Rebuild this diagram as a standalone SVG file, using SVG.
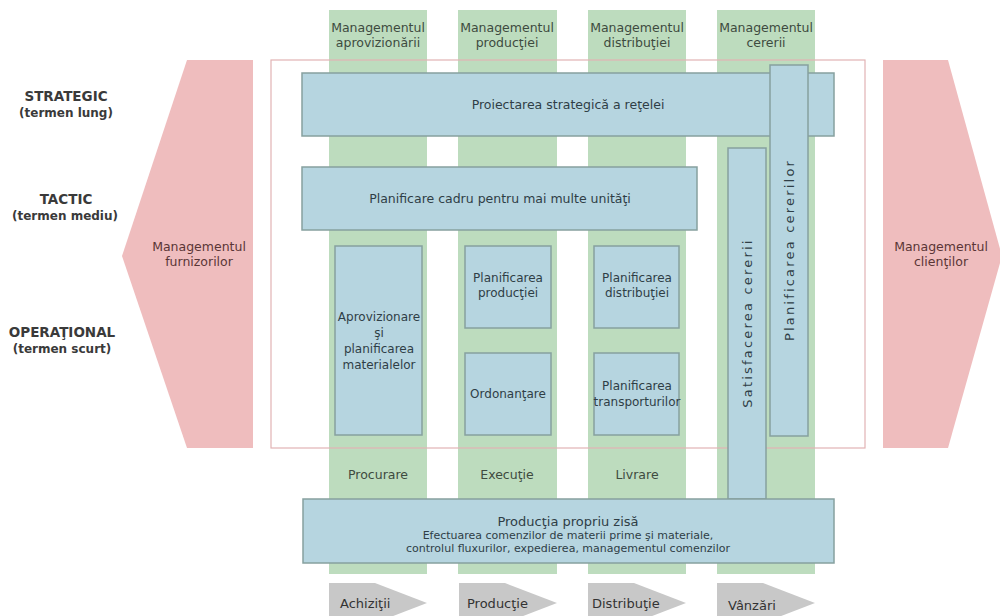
<svg xmlns="http://www.w3.org/2000/svg" width="1000" height="616" viewBox="0 0 1000 616">
  <style>
    text { font-family: "DejaVu Sans", Verdana, sans-serif; }
    .lane { fill: #bddcbe; }
    .box { fill: #b6d5e0; stroke: #86a09f; stroke-width: 1.5; }
    .frame { fill: none; stroke: #e2b3b4; stroke-width: 1.2; }
    .party { fill: #efbdbe; }
    .step { fill: #c8c8c8; }
    .lvl { font-size: 13.5px; font-weight: bold; fill: #3a3a3a; text-anchor: middle; }
    .lvs { font-size: 12px; font-weight: bold; fill: #3a3a3a; text-anchor: middle; }
    .head { font-size: 12.5px; fill: #3e4b40; text-anchor: middle; }
    .lbl { font-size: 12.5px; fill: #2f3e46; text-anchor: middle; }
    .sm { font-size: 12px; fill: #2f3e46; text-anchor: middle; }
    .tiny { font-size: 11px; fill: #2f3e46; text-anchor: middle; }
    .vert { font-size: 13px; fill: #2f3e46; text-anchor: middle; letter-spacing: 2.2px; }
    .pty { font-size: 12.5px; fill: #5a3636; text-anchor: middle; }
    .stp { font-size: 13px; fill: #333333; }
  </style>

  <rect width="1000" height="616" fill="#ffffff"/>

  <!-- planning level labels -->
  <g id="levels">
    <text class="lvl" x="66" y="101">STRATEGIC</text>
    <text class="lvs" x="66" y="117">(termen lung)</text>
    <text class="lvl" x="66" y="204">TACTIC</text>
    <text class="lvs" x="65" y="220">(termen mediu)</text>
    <text class="lvl" x="62" y="337">OPERAŢIONAL</text>
    <text class="lvs" x="62" y="353">(termen scurt)</text>
  </g>

  <!-- supplier side -->
  <g id="furnizori">
    <polygon class="party" points="187,60 253,60 253,448 187,448 122,256"/>
    <text class="pty" x="199" y="251">Managementul</text>
    <text class="pty" x="199" y="266">furnizorilor</text>
  </g>

  <!-- customer side -->
  <g id="clienti">
    <polygon class="party" points="883,60 948,60 1002,256 948,448 883,448"/>
    <text class="pty" x="941" y="251">Managementul</text>
    <text class="pty" x="941" y="266">clienţilor</text>
  </g>

  <!-- functional lanes -->
  <g id="lane-aprovizionare">
    <rect class="lane" x="329" y="10" width="98" height="564"/>
    <text class="head" x="378" y="32">Managementul</text>
    <text class="head" x="378" y="47">aprovizionării</text>
    <text class="head" x="378" y="479">Procurare</text>
  </g>
  <g id="lane-productie">
    <rect class="lane" x="458" y="10" width="99" height="564"/>
    <text class="head" x="507" y="32">Managementul</text>
    <text class="head" x="507" y="47">producţiei</text>
    <text class="head" x="507" y="479">Execuţie</text>
  </g>
  <g id="lane-distributie">
    <rect class="lane" x="588" y="10" width="98" height="564"/>
    <text class="head" x="637" y="32">Managementul</text>
    <text class="head" x="637" y="47">distribuţiei</text>
    <text class="head" x="637" y="479">Livrare</text>
  </g>
  <g id="lane-cereri">
    <rect class="lane" x="717" y="10" width="98" height="564"/>
    <text class="head" x="766" y="32">Managementul</text>
    <text class="head" x="766" y="47">cererii</text>
  </g>

  <!-- planning frame -->
  <rect id="frame" class="frame" x="271" y="60" width="594" height="388"/>

  <!-- planning tasks -->
  <g id="proiectare">
    <rect class="box" x="302" y="73" width="532" height="63"/>
    <text class="lbl" x="568" y="109">Proiectarea strategică a reţelei</text>
  </g>
  <g id="planificare-cadru">
    <rect class="box" x="302" y="167" width="395" height="63"/>
    <text class="lbl" x="500" y="203">Planificare cadru pentru mai multe unităţi</text>
  </g>
  <g id="aprovizionare">
    <rect class="box" x="335" y="246" width="87" height="189"/>
    <text class="sm" x="379" y="321">Aprovizionare</text>
    <text class="sm" x="379" y="337">şi</text>
    <text class="sm" x="379" y="353">planificarea</text>
    <text class="sm" x="379" y="369">materialelor</text>
  </g>
  <g id="planificare-productie">
    <rect class="box" x="465" y="246" width="86" height="82"/>
    <text class="sm" x="508" y="282">Planificarea</text>
    <text class="sm" x="508" y="297">producţiei</text>
  </g>
  <g id="ordonantare">
    <rect class="box" x="465" y="353" width="86" height="82"/>
    <text class="sm" x="508" y="398">Ordonanţare</text>
  </g>
  <g id="planificare-distributie">
    <rect class="box" x="594" y="246" width="85" height="82"/>
    <text class="sm" x="637" y="282">Planificarea</text>
    <text class="sm" x="637" y="297">distribuţiei</text>
  </g>
  <g id="planificare-transport">
    <rect class="box" x="594" y="353" width="85" height="82"/>
    <text class="sm" x="637" y="390">Planificarea</text>
    <text class="sm" x="637" y="406">transporturilor</text>
  </g>
  <g id="satisfacere">
    <rect class="box" x="728" y="148" width="38" height="351"/>
    <text class="vert" transform="translate(752,323) rotate(-90)" x="0" y="0">Satisfacerea cererii</text>
  </g>
  <g id="planificare-cereri">
    <rect class="box" x="770" y="65" width="38" height="371"/>
    <text class="vert" transform="translate(794,250) rotate(-90)" x="0" y="0">Planificarea cererilor</text>
  </g>
  <g id="productie">
    <rect class="box" x="303" y="499" width="531" height="64"/>
    <text class="lbl" x="568" y="526" style="font-size:13px">Producţia propriu zisă</text>
    <text class="tiny" x="568" y="539">Efectuarea comenzilor de materii prime şi materiale,</text>
    <text class="tiny" x="568" y="552">controlul fluxurilor, expedierea, managementul comenzilor</text>
  </g>

  <!-- process steps -->
  <g id="achizitii">
    <polygon class="step" points="329,583 375,583 427,603 375,623 329,623"/>
    <text class="stp" x="340" y="608">Achiziţii</text>
  </g>
  <g id="productie-pas">
    <polygon class="step" points="459,583 505,583 557,603 505,623 459,623"/>
    <text class="stp" x="467" y="608">Producţie</text>
  </g>
  <g id="distributie">
    <polygon class="step" points="588,583 634,583 686,603 634,623 588,623"/>
    <text class="stp" x="592" y="608">Distribuţie</text>
  </g>
  <g id="vanzari">
    <polygon class="step" points="717,583 763,583 815,603 763,623 717,623"/>
    <text class="stp" x="728" y="610">Vânzări</text>
  </g>
</svg>
